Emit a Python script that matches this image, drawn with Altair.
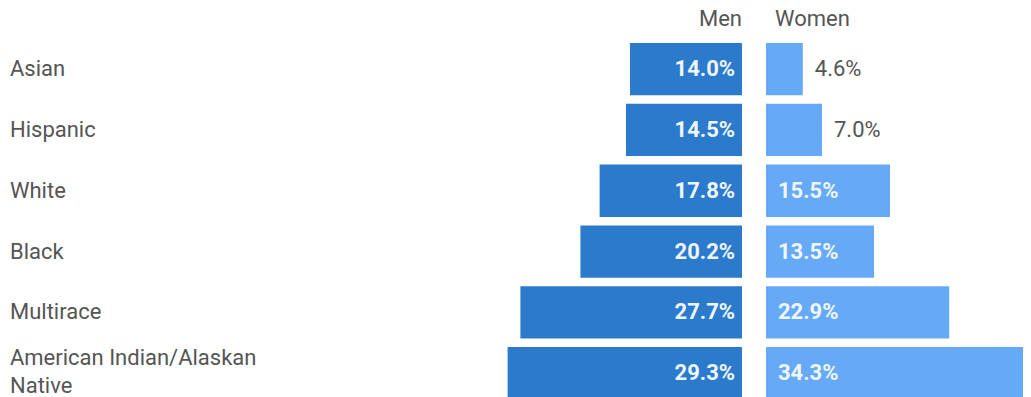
import altair as alt
import pandas as pd

races = ["Asian", "Hispanic", "White", "Black", "Multirace", "American Indian/Alaskan Native"]
race_labels = ["Asian", "Hispanic", "White", "Black", "Multirace", "American Indian/Alaskan\nNative"]
men = [14.0, 14.5, 17.8, 20.2, 27.7, 29.3]
women = [4.6, 7.0, 15.5, 13.5, 22.9, 34.3]
headers = ["Men", "Women"]

MEN_COLOR = "#2C7ACB"
WOMEN_COLOR = "#66A9F6"
GRAY = "#555555"
FONT = "Roboto"

df = pd.DataFrame({"race": races, "label": race_labels, "men": men, "women": women})
base = alt.Chart(df).transform_calculate(
    m0="-1.5",
    m1="-datum.men - 1.5",
    w0="1.5",
    w1="datum.women + 1.5",
    men_t="format(datum.men, '.1f') + '%'",
    women_t="format(datum.women, '.1f') + '%'",
)

W, H = 1015, 391.3
# all outer padding goes above the first row (room for the Men / Women headers)
y_scale = alt.Scale(paddingInner=0.14, paddingOuter=0.288, align=1)
y = alt.Y("race:N", scale=y_scale, axis=None, sort=races)

x_scale = alt.Scale(domain=[-93.25, 33.625], zero=False, nice=False)

men_bars = base.mark_bar(color=MEN_COLOR, clip=True).encode(
    x=alt.X("m1:Q", scale=x_scale, axis=None), x2="m0:Q", y=y)
men_text = base.mark_text(
    align="right", baseline="middle", dx=-7, font=FONT, fontSize=22, fontWeight="bold", color="#EEF6FF"
).encode(x=alt.X("m0:Q", scale=x_scale, axis=None), y=y, text="men_t:N")

women_bars = base.mark_bar(color=WOMEN_COLOR, clip=True).encode(
    x=alt.X("w0:Q", scale=x_scale, axis=None), x2="w1:Q", y=y)
women_in = base.transform_filter("datum.women >= 10").mark_text(
    align="left", baseline="middle", dx=12, font=FONT, fontSize=22, fontWeight="bold", color="#EEF6FF"
).encode(x=alt.X("w0:Q", scale=x_scale, axis=None), y=y, text="women_t:N")
women_out = base.transform_filter("datum.women < 10").mark_text(
    align="left", baseline="middle", dx=12, font=FONT, fontSize=22, color=GRAY
).encode(x=alt.X("w1:Q", scale=x_scale, axis=None), y=y, text="women_t:N")

hdr = pd.DataFrame({"h": headers, "pos": [-1.5, 1.5], "align": ["right", "left"]})
men_header = alt.Chart(hdr).transform_filter("datum.align == 'right'").mark_text(
    align="right", baseline="middle", font=FONT, fontSize=22, color=GRAY
).encode(x=alt.X("pos:Q", scale=x_scale, axis=None), y=alt.value(11), text="h:N")
women_header = alt.Chart(hdr).transform_filter("datum.align == 'left'").mark_text(
    align="left", baseline="middle", dx=9, font=FONT, fontSize=22, color=GRAY
).encode(x=alt.X("pos:Q", scale=x_scale, axis=None), y=alt.value(11), text="h:N")

cat_single = base.transform_filter("indexof(datum.label, '\\n') < 0").mark_text(
    align="left", baseline="middle", font=FONT, fontSize=22, color=GRAY
).encode(x=alt.value(2), y=y, text="label:N")
cat_multi = base.transform_filter("indexof(datum.label, '\\n') >= 0").mark_text(
    align="left", baseline="middle", dy=-15, font=FONT, fontSize=22, color=GRAY, lineBreak="\n", lineHeight=28
).encode(x=alt.value(2), y=y, text="label:N")

chart = alt.layer(
    men_bars, women_bars, men_text, women_in, women_out, men_header, women_header, cat_single, cat_multi
).properties(
    width=W, height=H, autosize=alt.AutoSizeParams(type="none"), padding=0
).configure_view(strokeWidth=0)

chart.save("out.html", embed_options={"renderer": "svg", "actions": False})
